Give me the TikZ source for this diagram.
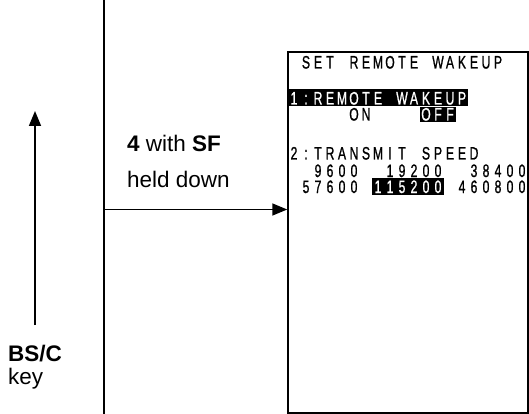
\documentclass[tikz,border=0pt]{standalone}
\usepackage{fontspec}
\setmainfont{Liberation Sans}
\newfontfamily\lcdfont[FakeBold=1.2]{Liberation Sans}
\usetikzlibrary{arrows.meta}
\newcount\lcdc
\makeatletter
\newcommand\lcdrow[5]{% name, start column, baseline, colour, text ('.' = blank)
  \global\lcdc=#2\relax
  \@tfor\lcdch:=#5\do{%
    \if.\lcdch\else
      \node[lcdchar,text=#4] (#1-\the\lcdc) at ({288+12*\the\lcdc+6},#3) {\lcdch};%
    \fi
    \global\advance\lcdc by 1\relax}}
\makeatother
\tikzset{
  lcdchar/.style={anchor=base,inner sep=0pt,text height=12.5pt,text depth=0pt,xscale=0.68,font=\lcdfont\fontsize{18}{18}\selectfont},
  lbl/.style={anchor=base west,inner sep=0pt,font=\fontsize{22.5}{22.5}\selectfont},
  arr/.style={line width=1.6pt,-{Triangle[length=15pt,width=12pt]}},
  band/.style={fill=black},
}
\begin{document}
\begin{tikzpicture}[x=1pt,y=-1pt]
\useasboundingbox (0,0) rectangle (529,414);
% screen
\node[draw,line width=1.5pt,minimum width=240pt,minimum height=361pt,inner sep=0pt] (screen) at (408,232.5) {};
% inverted bands
\fill[band] (288,89.5) rectangle (468,106);
\fill[band] (420,107.5) rectangle (456,122);
\fill[band] (372,178) rectangle (444,195);
% screen text
\lcdrow{t}{1}{68.5}{black}{SET.REMOTE.WAKEUP}
\lcdrow{r}{0}{104.5}{white}{1:REMOTE.WAKEUP}
\lcdrow{on}{5}{120.5}{black}{ON}
\lcdrow{off}{11}{120.5}{white}{OFF}
\lcdrow{s}{0}{159.5}{black}{2:TRANSMIT.SPEED}
\lcdrow{a}{2}{177}{black}{9600..19200..38400}
\lcdrow{b}{1}{193}{black}{57600}
\lcdrow{c}{7}{193}{white}{115200}
\lcdrow{d}{14}{193}{black}{460800}
% lines and arrows
\coordinate (vtop) at (104,0);
\coordinate (vbot) at (104,414);
\coordinate (hstart) at (104,209.5);
\coordinate (bsbot) at (35,325);
\coordinate (bstop) at (35,111);
\draw[line width=1.6pt] (vtop) -- (vbot);
\draw[arr] (hstart) -- (hstart -| screen.west);
\draw[arr] (bsbot) -- (bstop);
% labels
\node[lbl] (l1) at (127,152) {\textbf{4} with \textbf{SF}};
\node[lbl] (l2) at (127,187) {held down};
\node[lbl] (l3) at (8,361) {\textbf{BS/C}};
\node[lbl] (l4) at (8,384) {key};
\end{tikzpicture}
\end{document}
